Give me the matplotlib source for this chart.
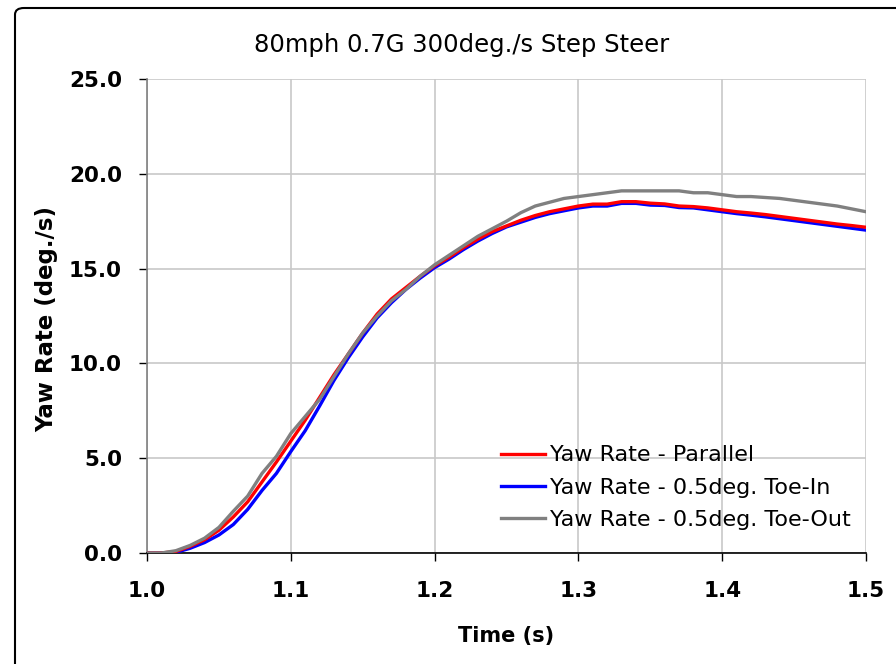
import matplotlib
matplotlib.use("Agg")
import matplotlib.pyplot as plt
from matplotlib.patches import FancyBboxPatch

time_s = [1.00, 1.01, 1.02, 1.03, 1.04, 1.05, 1.06, 1.07, 1.08, 1.09,
          1.10, 1.11, 1.12, 1.13, 1.14, 1.15, 1.16, 1.17, 1.18, 1.19,
          1.20, 1.21, 1.22, 1.23, 1.24, 1.25, 1.26, 1.27, 1.28, 1.29,
          1.30, 1.31, 1.32, 1.33, 1.34, 1.35, 1.36, 1.37, 1.38, 1.39,
          1.40, 1.41, 1.42, 1.43, 1.44, 1.45, 1.46, 1.47, 1.48, 1.49, 1.50]

yaw_parallel = [0.0, 0.0, 0.08, 0.35, 0.7, 1.2, 1.9, 2.7, 3.75, 4.8,
                5.9, 7.0, 8.2, 9.4, 10.5, 11.6, 12.6, 13.4, 14.0, 14.6,
                15.15, 15.6, 16.1, 16.55, 16.95, 17.25, 17.55, 17.8, 18.0, 18.15,
                18.3, 18.4, 18.4, 18.53, 18.53, 18.45, 18.41, 18.3, 18.27, 18.2,
                18.1, 18.0, 17.93, 17.85, 17.75, 17.65, 17.55, 17.45, 17.35, 17.27, 17.18]

yaw_toe_in = [0.0, 0.0, 0.03, 0.25, 0.55, 0.95, 1.5, 2.3, 3.3, 4.2,
              5.35, 6.45, 7.75, 9.1, 10.3, 11.4, 12.4, 13.2, 13.9, 14.5,
              15.05, 15.5, 16.0, 16.45, 16.85, 17.2, 17.45, 17.7, 17.9, 18.05,
              18.2, 18.3, 18.3, 18.44, 18.44, 18.35, 18.33, 18.22, 18.2, 18.1,
              18.0, 17.9, 17.82, 17.73, 17.63, 17.53, 17.43, 17.33, 17.23, 17.13, 17.03]

yaw_toe_out = [0.0, 0.0, 0.12, 0.4, 0.78, 1.35, 2.2, 3.0, 4.2, 5.1,
               6.3, 7.2, 8.1, 9.3, 10.5, 11.6, 12.5, 13.3, 13.9, 14.6,
               15.2, 15.7, 16.2, 16.7, 17.1, 17.5, 17.95, 18.3, 18.5, 18.7,
               18.8, 18.9, 19.0, 19.1, 19.1, 19.1, 19.1, 19.1, 19.0, 19.0,
               18.9, 18.8, 18.8, 18.75, 18.7, 18.6, 18.5, 18.4, 18.3, 18.15, 18.0]

x_ticks = [1.0, 1.1, 1.2, 1.3, 1.4, 1.5]
y_ticks = [0.0, 5.0, 10.0, 15.0, 20.0, 25.0]

fig = plt.figure(figsize=(8.96, 6.64), dpi=100)
border = FancyBboxPatch((15 / 896, -0.1), 1.2, 1 - 8 / 664 + 0.1,
                        boxstyle="round,pad=0,rounding_size=0.01",
                        transform=fig.transFigure, fill=False,
                        edgecolor="black", linewidth=1.5)
fig.patches.append(border)

ax = fig.add_axes([147 / 896, (664 - 553) / 664, 719 / 896, 474 / 664])

ax.plot(time_s, yaw_toe_in, color="#0000FF", lw=2.4, zorder=3,
        label="Yaw Rate - 0.5deg. Toe-In")
ax.plot(time_s, yaw_parallel, color="#FF0000", lw=2.4, zorder=4,
        label="Yaw Rate - Parallel")
ax.plot(time_s, yaw_toe_out, color="#808080", lw=2.4, zorder=5,
        label="Yaw Rate - 0.5deg. Toe-Out")

ax.set_xlim(1.0, 1.5)
ax.set_ylim(0, 25)
ax.set_xticks(x_ticks)
ax.set_yticks(y_ticks)
ax.set_xticklabels([f"{v:.1f}" for v in x_ticks])
ax.set_yticklabels([f"{v:.1f}" for v in y_ticks])
ax.grid(True, color="#C8C8C8", lw=1.2, zorder=0)
ax.set_axisbelow(True)

for s in ["top", "right"]:
    ax.spines[s].set_visible(False)
ax.spines["left"].set_color("#808080")
ax.spines["left"].set_linewidth(1.2)
ax.spines["bottom"].set_color("black")
ax.spines["bottom"].set_linewidth(1.2)

ax.tick_params(axis="both", direction="out", length=6, width=1.0,
               labelsize=15.5)
ax.tick_params(axis="x", pad=14)
ax.tick_params(axis="y", pad=12)
for lab in ax.get_xticklabels() + ax.get_yticklabels():
    lab.set_fontweight("bold")

ax.set_xlabel("Time (s)", fontsize=15, fontweight="bold", labelpad=18)
ax.set_ylabel("Yaw Rate (deg./s)", fontsize=16.5, fontweight="bold")
ax.yaxis.set_label_coords(-0.124, 0.494)
fig.text(462 / 896, 1 - 45 / 664, "80mph 0.7G 300deg./s Step Steer",
         fontsize=17.5, ha="center", va="center")

h, l = ax.get_legend_handles_labels()
order = [1, 0, 2]
leg = ax.legend([h[i] for i in order], [l[i] for i in order],
                loc="upper left", bbox_to_anchor=(0.48, 0.246),
                frameon=False, fontsize=16, handlelength=2.0,
                handletextpad=0.2, labelspacing=0.55, borderaxespad=0)

fig.savefig("out.png", dpi=100)
